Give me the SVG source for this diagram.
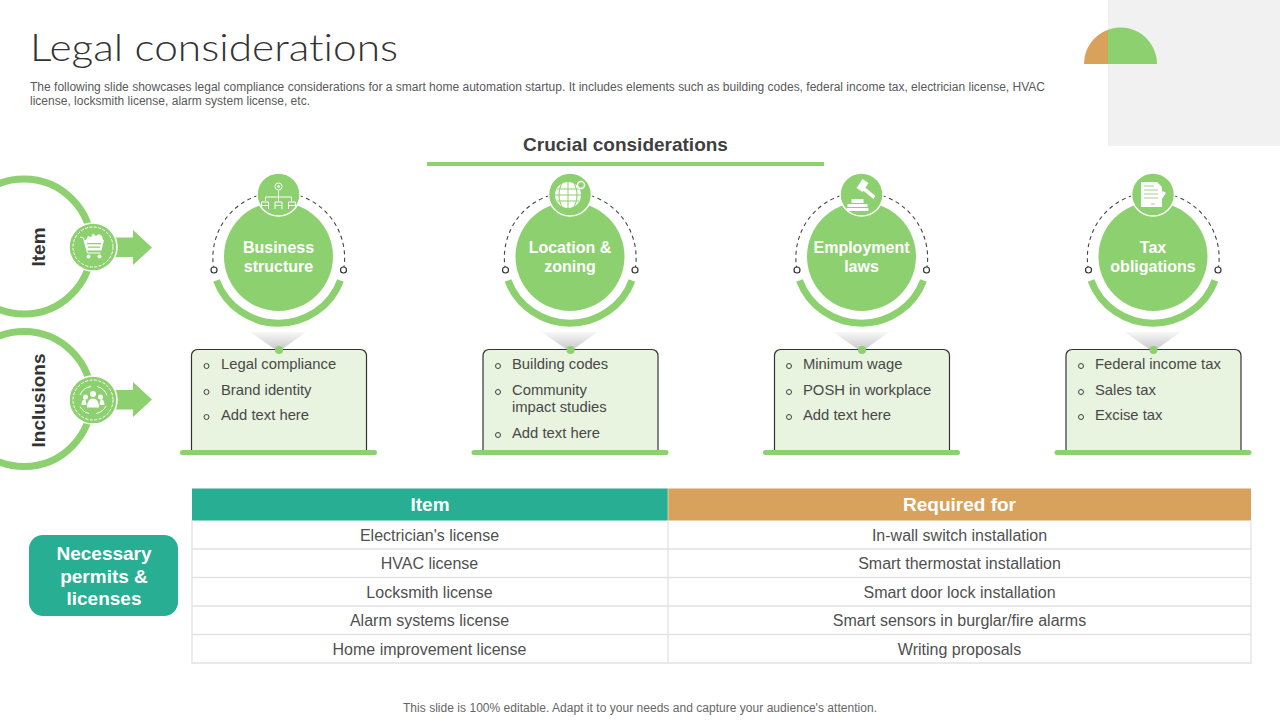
<svg xmlns="http://www.w3.org/2000/svg" width="1280" height="720" viewBox="0 0 1280 720">
<style>
text{font-family:"Liberation Sans",Arial,sans-serif;fill:#4d4d4d}
.title{font-family:Lato,"Open Sans",sans-serif;font-weight:300;font-size:38px;fill:#333;font-variant-ligatures:none}
.sub{font-size:12px;fill:#595959}
.head{font-size:19px;font-weight:bold;fill:#fff;text-anchor:middle}
.cell{font-size:16px;text-anchor:middle;fill:#505050}
.side{font-size:19px;font-weight:bold;fill:#333;text-anchor:middle}
.nt{font-size:16px;font-weight:bold;fill:#fff;text-anchor:middle}
.li{font-size:14.800px;fill:#484848}
.ring{fill:none;stroke:#8dd06f;stroke-width:7}
.disc{fill:#8dd06f}
.ic{fill:#8dd06f;stroke:#fff;stroke-width:1.500}
.dash{fill:none;stroke:#444;stroke-width:1.100;stroke-dasharray:4 3.500}
.end{fill:#fff;stroke:#333;stroke-width:1.200}
.arc{fill:none;stroke:#8dd06f;stroke-width:7}
.box{fill:#e8f4e0;stroke:#333;stroke-width:1.200}
.bul{fill:none;stroke:#404040;stroke-width:1}
.w{fill:#fff}
.wl{fill:none;stroke:#fff;stroke-width:1}
.grid{stroke:#e2e2e2;stroke-width:1.300;fill:none}
</style>
<defs>
<linearGradient id="cone" x1="0" y1="0" x2="0" y2="1"><stop offset="0" stop-color="#f8f8f8"/><stop offset="1" stop-color="#c8c8c8"/></linearGradient>
<g id="shell">
<path class="dash" d="M-20.500 -62.500A65.500 65.500 0 0 0 -64.500 12"/>
<path class="dash" d="M20.500 -62.500A65.500 65.500 0 0 1 65 12"/>
<circle class="end" cx="-64.500" cy="12" r="3"/>
<circle class="end" cx="65" cy="12" r="3"/>
<circle class="disc" cx="0" cy="-1.500" r="54.500"/>
<path class="arc" d="M-62 22.500A66 65 0 0 0 62 22.500"/>
<circle class="ic" cx="0" cy="-63.500" r="21.500"/>
<rect x="-87" y="91.500" width="174.500" height="102.500" class="box" style="stroke:none"/>
<path class="box" d="M-87 194V97.500a6 6 0 0 1 6-6H82a6 6 0 0 1 6 6V194" style="fill:none"/>
<rect x="-98.500" y="192" width="197" height="5" rx="2.500" class="disc"/>
</g>
</defs>
<rect width="1280" height="720" fill="#fff"/>
<rect x="1108" y="0" width="172" height="146" fill="#f1f1f1"/>
<path d="M1084 64A36.500 36.500 0 0 1 1108 29.700V64Z" fill="#d9a25c"/>
<path d="M1108 64V29.700A36.500 36.500 0 0 1 1157 64Z" fill="#8dd06f"/>

<text class="title" x="30" y="61" textLength="368" lengthAdjust="spacingAndGlyphs">Legal considerations</text>
<text class="sub" x="30" y="91" textLength="1015">The following slide showcases legal compliance considerations for a smart home automation startup. It includes elements such as building codes, federal income tax, electrician license, HVAC</text>
<text class="sub" x="30" y="105" textLength="280">license, locksmith license, alarm system license, etc.</text>

<text x="625.500" y="151" font-size="19" font-weight="bold" text-anchor="middle" style="fill:#404040">Crucial considerations</text>
<rect x="427" y="162" width="397" height="4" fill="#8dd06f"/>

<g id="connectors">
<path class="disc" d="M114 237.500H133V230L152 247.500L133 265V257H114Z"/>
<path class="disc" d="M114 390H133V382L152 399.500L133 417V409.500H114Z"/>
<path d="M250 332H306L281 350H276Z" fill="url(#cone)"/>
<path d="M541.500 332H597.500L572.500 350H567.500Z" fill="url(#cone)"/>
<path d="M833 332H889L864 350H859Z" fill="url(#cone)"/>
<path d="M1124.500 332H1180.500L1155.500 350H1150.500Z" fill="url(#cone)"/>
</g>

<g id="side-item">
<circle class="ring" cx="24" cy="246.500" r="67.500"/>
<text class="side" transform="translate(44.500 247) rotate(-90)">Item</text>
<circle class="disc" cx="93" cy="247" r="24" stroke="#fff" stroke-width="1.500"/>
<circle cx="93" cy="247" r="20" fill="none" stroke="#fff" stroke-width="1" stroke-dasharray="3 1.500"/>
<path class="wl" d="M80 237l3.500 1 4 15h13"/>
<path class="w" d="M84 240h20l-2.500 10.500h-15Z"/>
<path class="disc" d="M87 243h14v1.300h-14ZM88 246.500h12v1.300h-12Z"/>
<path class="w" d="M86 240l2-4 3 1 2-3.500 3 2.500 3-2 3 2 1 4Z"/>
<circle class="w" cx="88.500" cy="256.500" r="2"/><circle class="w" cx="99.500" cy="256.500" r="2"/>
</g>
<g id="side-inclusions">
<circle class="ring" cx="24" cy="399" r="67.500"/>
<text class="side" transform="translate(44.500 400.500) rotate(-90)">Inclusions</text>
<circle class="disc" cx="93" cy="400" r="24" stroke="#fff" stroke-width="1.500"/>
<circle cx="93" cy="400" r="20" fill="none" stroke="#fff" stroke-width="1" stroke-dasharray="3 1.500"/>
<path class="wl" d="M80 395a14 14 0 0 1 11-8.500M97 386.500a14 14 0 0 1 10 9M106 406a14 14 0 0 1-10 7.500M89 413.500a14 14 0 0 1-9-7"/>
<circle class="w" cx="93" cy="394" r="3"/><circle class="w" cx="85.500" cy="397" r="2.500"/><circle class="w" cx="100.500" cy="397" r="2.500"/>
<path class="w" d="M87 407.500c0-6 2.500-9 6-9s6 3 6 9Z"/><path class="w" d="M81.500 405c0-4 1.500-6 4-6l1 6ZM104.500 405c0-4-1.500-6-4-6l-1 6Z"/>
</g>

<g id="node-business" transform="translate(278.500 258)">
<use href="#shell"/>
<circle class="disc" cx="0.500" cy="92" r="4"/>
<g><circle class="wl" cx="0" cy="-71.500" r="3.500"/><circle class="w" cx="0" cy="-71.500" r="1.200"/><path class="wl" d="M0 -67.500V-61M-13 -57V-61H13V-57M0 -61V-57"/><path class="wl" d="M-17 -49V-56h7v7M-3.500 -49V-56h7v7M10 -49V-56h7v7M-17 -52.500h7M-3.500 -52.500h7M10 -52.500h7"/></g>
<text class="nt" y="-5">Business</text><text class="nt" y="14">structure</text>
<g transform="translate(-278.500 -258)">
<circle class="bul" cx="206.500" cy="366" r="2.500"/><text class="li" x="221" y="369">Legal compliance</text>
<circle class="bul" cx="206.500" cy="392" r="2.500"/><text class="li" x="221" y="395">Brand identity</text>
<circle class="bul" cx="206.500" cy="417" r="2.500"/><text class="li" x="221" y="420">Add text here</text>
</g>
</g>

<g id="node-location" transform="translate(570 258)">
<use href="#shell"/>
<circle class="disc" cx="0.500" cy="92" r="4"/>
<circle class="w" cx="-2" cy="-63" r="13"/>
<path d="M-15 -63H11M-13 -69H9M-13 -57H9M-2 -76V-50M-8 -75c-4 8-4 16 0 24M4 -75c4 8 4 16 0 24" fill="none" stroke="#8dd06f" stroke-width="1"/>
<circle cx="11" cy="-73" r="3.500" fill="#8dd06f" stroke="#fff" stroke-width="1.500"/>
<text class="nt" y="-5">Location &amp;</text><text class="nt" y="14">zoning</text>
<g transform="translate(-570 -258)">
<circle class="bul" cx="498" cy="366" r="2.500"/><text class="li" x="512" y="369">Building codes</text>
<circle class="bul" cx="498" cy="392" r="2.500"/><text class="li" x="512" y="395">Community</text><text class="li" x="512" y="412">impact studies</text>
<circle class="bul" cx="498" cy="435" r="2.500"/><text class="li" x="512" y="438">Add text here</text>
</g>
</g>

<g id="node-employment" transform="translate(861.500 258)">
<use href="#shell"/>
<circle class="disc" cx="0.500" cy="92" r="4"/>
<path class="w" d="M-5 -70l6-9 6 4-6 9ZM1 -68l2-3 11 9-2 3Z"/>
<path class="w" d="M-10 -59h12v4h-12ZM-14 -54h20v3h-20ZM-15 -50h22v3h-22Z"/>
<text class="nt" y="-5">Employment</text><text class="nt" y="14">laws</text>
<g transform="translate(-861.500 -258)">
<circle class="bul" cx="789" cy="366" r="2.500"/><text class="li" x="803" y="369">Minimum wage</text>
<circle class="bul" cx="789" cy="392" r="2.500"/><text class="li" x="803" y="395">POSH in workplace</text>
<circle class="bul" cx="789" cy="417" r="2.500"/><text class="li" x="803" y="420">Add text here</text>
</g>
</g>

<g id="node-tax" transform="translate(1153 258)">
<use href="#shell"/>
<circle class="disc" cx="0.500" cy="92" r="4"/>
<path class="w" d="M-12 -76H4l5 5V-51H-12Z"/>
<path d="M-9 -72H1M-9 -68H5M-9 -64H5M-9 -60H5M-2 -54h7" fill="none" stroke="#a9cf98" stroke-width="1"/>
<path class="w" d="M10 -67l3 2-8 12-3 1 0-3Z"/>
<text class="nt" y="-5">Tax</text><text class="nt" y="14">obligations</text>
<g transform="translate(-1153 -258)">
<circle class="bul" cx="1081" cy="366" r="2.500"/><text class="li" x="1095" y="369">Federal income tax</text>
<circle class="bul" cx="1081" cy="392" r="2.500"/><text class="li" x="1095" y="395">Sales tax</text>
<circle class="bul" cx="1081" cy="417" r="2.500"/><text class="li" x="1095" y="420">Excise tax</text>
</g>
</g>

<g id="permits">
<rect x="29" y="535" width="149" height="81" rx="14" fill="#27ae93"/>
<text class="head" x="104" y="560">Necessary</text>
<text class="head" x="104" y="583">permits &amp;</text>
<text class="head" x="104" y="605">licenses</text>
</g>

<g id="table">
<rect x="192" y="488.500" width="476" height="32" fill="#27ae93"/>
<rect x="668" y="488.500" width="583" height="32" fill="#d9a25c"/>
<path class="grid" d="M192 520.500V663H1251V520.500M668 520.500V663M192 549H1251M192 577.500H1251M192 606H1251M192 634.500H1251"/>
<path d="M668 488.500V520.500" stroke="#fff" stroke-opacity=".5" stroke-width="1"/>
<text class="head" x="430" y="511">Item</text>
<text class="head" x="959.500" y="511">Required for</text>
<text class="cell" x="429.500" y="541">Electrician's license</text>
<text class="cell" x="429.500" y="569">HVAC license</text>
<text class="cell" x="429.500" y="598">Locksmith license</text>
<text class="cell" x="429.500" y="626">Alarm systems license</text>
<text class="cell" x="429.500" y="655">Home improvement license</text>
<text class="cell" x="959.500" y="541">In-wall switch installation</text>
<text class="cell" x="959.500" y="569">Smart thermostat installation</text>
<text class="cell" x="959.500" y="598">Smart door lock installation</text>
<text class="cell" x="959.500" y="626">Smart sensors in burglar/fire alarms</text>
<text class="cell" x="959.500" y="655">Writing proposals</text>
</g>
<text x="640" y="711.500" font-size="12" text-anchor="middle" textLength="474" style="fill:#666">This slide is 100% editable. Adapt it to your needs and capture your audience's attention.</text>
</svg>
